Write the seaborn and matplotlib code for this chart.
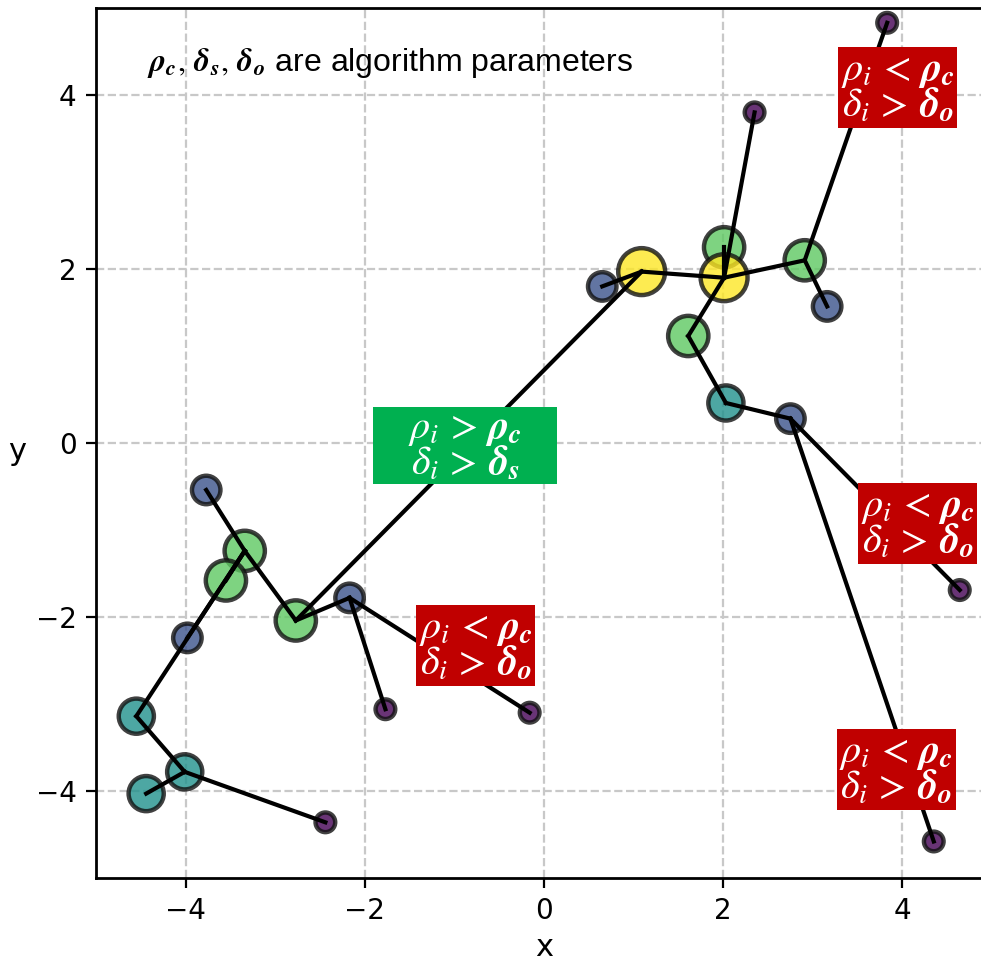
import matplotlib
matplotlib.use("Agg")
import matplotlib.pyplot as plt
import seaborn as sns
import pandas as pd
from matplotlib.patches import Rectangle

plt.rcParams['font.family'] = ['DejaVu Sans']
plt.rcParams['mathtext.fontset'] = 'custom'
plt.rcParams['mathtext.rm'] = 'STIXGeneral'
plt.rcParams['mathtext.it'] = 'STIXGeneral:italic'
plt.rcParams['mathtext.bf'] = 'STIXGeneral:italic:bold'

# point data
xs = [3.83, 2.35, 2.01, 2.01, 1.09, 0.65, 2.91, 3.16, 1.61, 2.03, 2.75, 4.64, 4.35,
      -3.77, -3.34, -3.55, -2.77, -2.17, -3.98, -1.77, -0.16, -4.55, -4.01, -4.44, -2.44]
ys = [4.83, 3.80, 2.25, 1.90, 1.97, 1.80, 2.10, 1.57, 1.23, 0.46, 0.28, -1.69, -4.58,
      -0.54, -1.24, -1.58, -2.04, -1.78, -2.24, -3.06, -3.10, -3.14, -3.78, -4.03, -4.36]
level = [1, 1, 4, 5, 5, 2, 4, 2, 4, 3, 2, 1, 1,
         2, 4, 4, 4, 2, 2, 1, 1, 3, 3, 3, 1]
# index of parent (nearest point with higher density); -1 = none
parent = [6, 3, 3, -1, 3, 4, 3, 6, 3, 8, 9, 10, 10,
          14, 16, 14, 4, 16, 14, 17, 17, 14, 21, 22, 22]

level_colors = {1: '#440154', 2: '#3b528b', 3: '#21918c', 4: '#5ec962', 5: '#fde725'}
level_sizes = {1: 50, 2: 105, 3: 160, 4: 210, 5: 285}

# annotation data
red_text = r'$\rho_i\,<\,\mathbf{\rho_c}$' + '\n' + r'$\delta_i\,>\,\mathbf{\delta_o}$'
green_text = r'$\rho_i\,>\,\mathbf{\rho_c}$' + '\n' + r'$\delta_i\,>\,\mathbf{\delta_s}$'
red_pos = [(3.95, 4.08), (4.17, -0.93), (-0.76, -2.33), (3.93, -3.76)]
green_pos = (-0.88, -0.03)

df = pd.DataFrame({'x': xs, 'y': ys, 'level': level})

fig = plt.figure(figsize=(981 / 200, 961 / 200), dpi=200)
ax = fig.add_axes([96 / 981, 83 / 961, 896 / 981, 870 / 961])
ax.set_axisbelow(True)
ax.grid(True, linestyle='--', color='#c8c8c8', linewidth=0.8)

sns.scatterplot(data=df, x='x', y='y', hue='level', size='level',
                palette=level_colors, sizes=level_sizes, legend=False,
                alpha=0.8, edgecolor='#111111', linewidth=1.6, ax=ax, zorder=2)

for i, p in enumerate(parent):
    if p >= 0:
        ax.plot([xs[i], xs[p]], [ys[i], ys[p]], color='black', lw=1.5, zorder=3)

ax.set_xlim(-5, 5)
ax.set_ylim(-5, 5)
ax.set_xticks([-4, -2, 0, 2, 4])
ax.set_yticks([-4, -2, 0, 2, 4])
ax.set_xlabel('x', fontsize=11)
ax.set_ylabel('y', fontsize=11, rotation=0, va='center')
ax.yaxis.set_label_coords(-0.088, 0.49)
ax.xaxis.set_label_coords(0.5, -0.063)
ax.tick_params(labelsize=10)
for s in ax.spines.values():
    s.set_linewidth(1.0)

ax.text(-4.43, 4.37, r'$\mathbf{\rho_c},\,\mathbf{\delta_s},\,\mathbf{\delta_o}$'
        + ' are algorithm parameters', fontsize=11.5, family='Liberation Sans',
        ha='left', va='center', zorder=5)

for (px, py) in red_pos:
    ax.text(px, py, red_text, color='white', fontsize=14.5, ha='center', va='center',
            multialignment='center', linespacing=0.85, zorder=6,
            bbox=dict(boxstyle='square,pad=0.06', fc='#c00000', ec='none'))

gw, gh = 2.05, 0.89
ax.add_patch(Rectangle((green_pos[0] - gw / 2, green_pos[1] - gh / 2), gw, gh,
                       fc='#00b050', ec='none', zorder=5))
ax.text(green_pos[0], green_pos[1], green_text, color='white', fontsize=14.5,
        ha='center', va='center', multialignment='center', linespacing=0.85, zorder=6)

fig.savefig('out.png', dpi=200)
